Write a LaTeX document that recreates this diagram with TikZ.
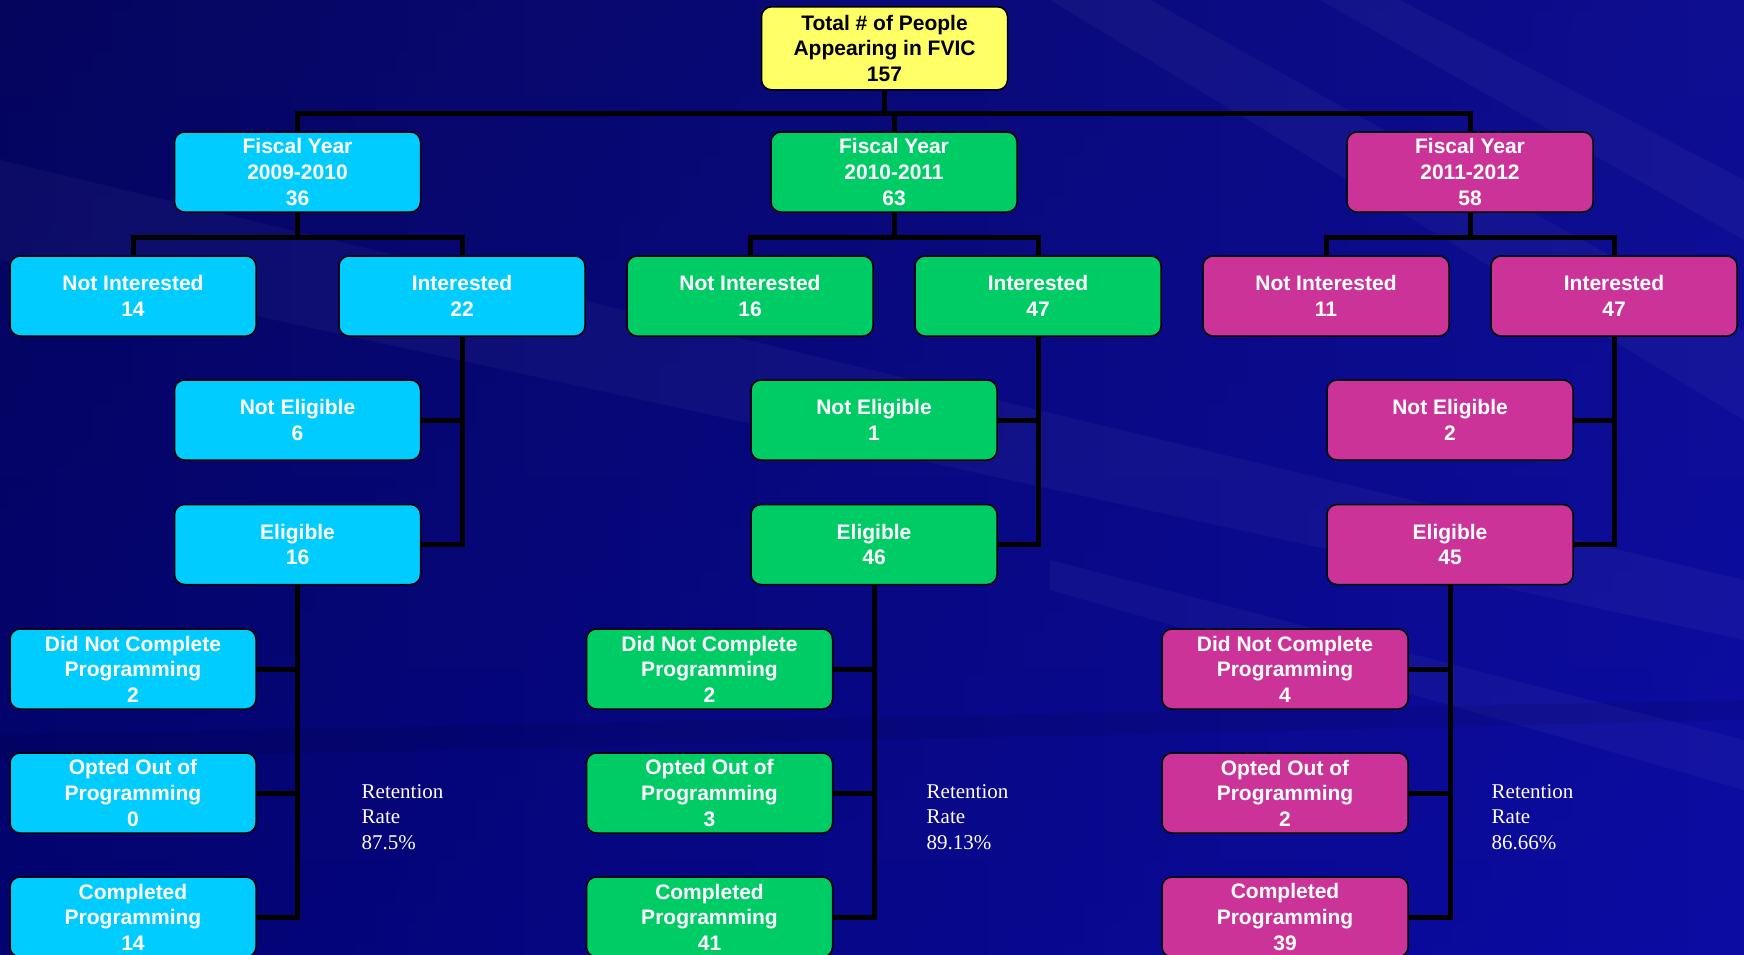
\documentclass[tikz,border=0pt]{standalone}
\usepackage{fontspec}
\setmainfont{Liberation Sans}
\newfontfamily\serifa{Liberation Serif}
\definecolor{cyanc}{HTML}{00CCFF}
\definecolor{greenc}{HTML}{00CC66}
\definecolor{magc}{HTML}{CC3399}
\definecolor{yelc}{HTML}{FFFF66}
\definecolor{bgdark}{HTML}{05055E}
\definecolor{bgmid}{HTML}{00008C}
\definecolor{bglight}{HTML}{1414B4}
\begin{document}
\begin{tikzpicture}[x=1pt,y=-1pt,
  box/.style={draw=black, line width=1.5pt, rounded corners=10pt,
    minimum width=246pt, minimum height=80pt, align=center, inner sep=0pt,
    font=\fontsize{21}{25.6}\selectfont\bfseries, text=white},
  cbox/.style={box, fill=cyanc},
  gbox/.style={box, fill=greenc},
  mbox/.style={box, fill=magc},
  ybox/.style={box, fill=yelc, text=black, minimum height=83pt},
  conn/.style={line width=5pt, draw=black, line join=miter},
  ret/.style={text=white, align=left, inner sep=0pt,
    font=\serifa\fontsize{21}{25.6}\selectfont},
  streak/.style={fill=white, opacity=0.035}
]
\clip (0,0) rectangle (1744,954);
% background
\shade[top color=bgdark, bottom color=bgmid, shading angle=0] (0,0) rectangle (1744,954);
\shade[left color=bgdark, right color=bglight, opacity=0.6] (0,0) rectangle (1744,954);
\fill[streak] (0,160) -- (1744,580) -- (1744,640) -- (0,260) -- cycle;
\fill[streak] (1050,560) -- (1744,740) -- (1744,790) -- (1050,590) -- cycle;
\fill[streak] (1150,0) -- (1744,330) -- (1744,420) -- (1050,0) -- cycle;
\fill[streak] (1400,0) -- (1744,180) -- (1744,240) -- (1320,0) -- cycle;
\fill[black, opacity=0.08] (0,760) -- (1744,720) -- (1744,700) -- (0,735) -- cycle;

% nodes
\node[ybox] (top) at (884.5,48.3) {Total \# of People\\Appearing in FVIC\\157};

\node[cbox] (fy1) at (297.5,172) {Fiscal Year\\2009-2010\\36};
\node[gbox] (fy2) at (894,172) {Fiscal Year\\2010-2011\\63};
\node[mbox] (fy3) at (1470,172) {Fiscal Year\\2011-2012\\58};

\node[cbox] (ni1) at (133,296) {Not Interested\\14};
\node[cbox] (in1) at (462,296) {Interested\\22};
\node[gbox] (ni2) at (750,296) {Not Interested\\16};
\node[gbox] (in2) at (1038,296) {Interested\\47};
\node[mbox] (ni3) at (1326,296) {Not Interested\\11};
\node[mbox] (in3) at (1614,296) {Interested\\47};

\node[cbox] (ne1) at (297.5,420) {Not Eligible\\6};
\node[cbox] (el1) at (297.5,544.5) {Eligible\\16};
\node[gbox] (ne2) at (874,420) {Not Eligible\\1};
\node[gbox] (el2) at (874,544.5) {Eligible\\46};
\node[mbox] (ne3) at (1450,420) {Not Eligible\\2};
\node[mbox] (el3) at (1450,544.5) {Eligible\\45};

\node[cbox] (dn1) at (133,669) {Did Not Complete\\Programming\\2};
\node[cbox] (op1) at (133,793) {Opted Out of\\Programming\\0};
\node[cbox] (cp1) at (133,917) {Completed\\Programming\\14};
\node[gbox] (dn2) at (709.5,669) {Did Not Complete\\Programming\\2};
\node[gbox] (op2) at (709.5,793) {Opted Out of\\Programming\\3};
\node[gbox] (cp2) at (709.5,917) {Completed\\Programming\\41};
\node[mbox] (dn3) at (1285,669) {Did Not Complete\\Programming\\4};
\node[mbox] (op3) at (1285,793) {Opted Out of\\Programming\\2};
\node[mbox] (cp3) at (1285,917) {Completed\\Programming\\39};

\node[ret, anchor=north west] (r1) at (361.5,784) {Retention\\Rate\\87.5\%};
\node[ret, anchor=north west] (r2) at (926.5,784) {Retention\\Rate\\89.13\%};
\node[ret, anchor=north west] (r3) at (1491.5,784) {Retention\\Rate\\86.66\%};

% connectors
\coordinate (bus) at (0,113.4);
\draw[conn] (top.south) -- (top.south |- bus);
\draw[conn] (fy1.north) -- (fy1.north |- bus) -| (fy3.north);
\draw[conn] (fy2.north) -- (fy2.north |- bus);

\coordinate (b2) at (0,237);
\foreach \i in {1,2,3}{
  \draw[conn] (fy\i.south) -- (fy\i.south |- b2);
  \draw[conn] (ni\i.north) -- (ni\i.north |- b2) -| (in\i.north);
  \draw[conn] (in\i.south) |- (el\i.east);
  \draw[conn] (ne\i.east) -- (ne\i.east -| in\i.south);
  \draw[conn] (el\i.south) |- (cp\i.east);
  \draw[conn] (dn\i.east) -- (dn\i.east -| el\i.south);
  \draw[conn] (op\i.east) -- (op\i.east -| el\i.south);
}
\end{tikzpicture}
\end{document}
